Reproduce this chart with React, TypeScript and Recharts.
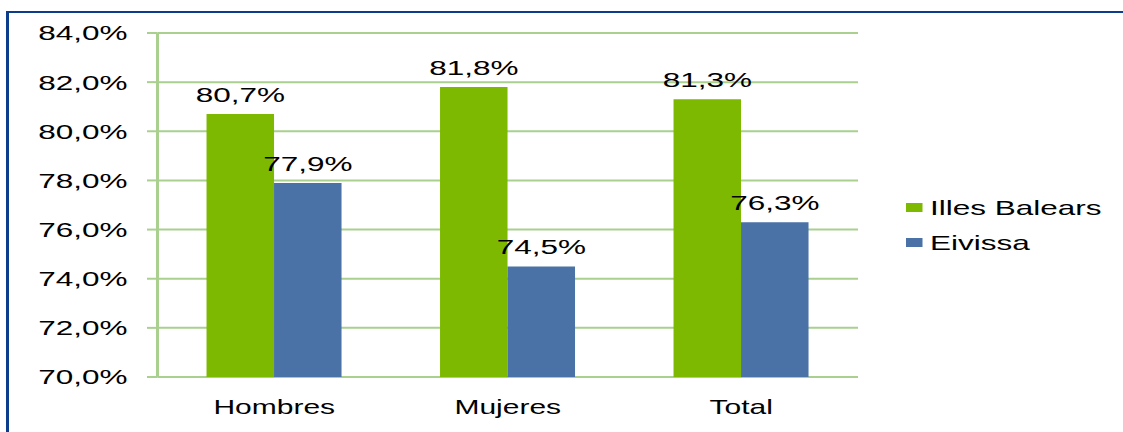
import { BarChart, Bar, XAxis, YAxis, CartesianGrid, Legend, LabelList } from 'recharts'

const categories = ['Hombres', 'Mujeres', 'Total']
const illesBalears = [80.7, 81.8, 81.3]
const eivissa = [77.9, 74.5, 76.3]
const yTicks = [70, 72, 74, 76, 78, 80, 82, 84]
const boundaryTicks = [0, 1, 2, 3]

const GREEN = '#7cb900'
const BLUE = '#4a72a6'
const GRID = '#a9d08e'
const FONT = '"Liberation Sans", Arial, sans-serif'
// the original picture is stretched sideways, so draw narrow and scale x
const STRETCH = 1.5

const data = categories.map((name, i) => ({
  name,
  balears: illesBalears[i],
  eivissa: eivissa[i],
}))

const pct = (v: number) => `${v.toFixed(1).replace('.', ',')}%`

function LegendBox() {
  const items = [
    { label: 'Illes Balears', color: GREEN },
    { label: 'Eivissa', color: BLUE },
  ]
  return (
    <div style={{ fontFamily: FONT, fontSize: 21, color: '#000' }}>
      {items.map((it) => (
        <div key={it.label} style={{ display: 'flex', alignItems: 'center', height: 35 }}>
          <span style={{ width: 11, height: 9, background: it.color, marginRight: 5 }} />
          <span>{it.label}</span>
        </div>
      ))}
    </div>
  )
}

export default function App() {
  const w = Math.round(1123 / STRETCH)
  return (
    <div style={{ position: 'fixed', left: 0, top: 0, width: 1123, height: 432, overflow: 'hidden', background: '#fff' }}>
      <div style={{ position: 'relative', width: w, height: 432, transform: `scaleX(${STRETCH})`, transformOrigin: '0 0' }}>
        <div
          style={{
            position: 'absolute',
            left: 4,
            top: 11,
            width: 900,
            height: 600,
            borderTop: '2px solid #0b3d8c',
            borderLeft: '2px solid #0b3d8c',
          }}
        />
        <BarChart
          width={w}
          height={432}
          data={data}
          margin={{ top: 33, right: w - 572, bottom: 0, left: 0 }}
          barCategoryGap="21%"
          barGap={0}
        >
          <CartesianGrid vertical={false} stroke={GRID} strokeWidth={2} />
          <XAxis
            xAxisId="b"
            type="number"
            domain={[0, 3]}
            ticks={boundaryTicks}
            allowDataOverflow
            tick={false}
            height={0}
            tickSize={5}
            axisLine={{ stroke: GRID, strokeWidth: 2 }}
            tickLine={{ stroke: GRID, strokeWidth: 2 }}
          />
          <XAxis
            xAxisId="cat"
            dataKey="name"
            height={55}
            axisLine={false}
            tickLine={false}
            tickSize={0}
            tickMargin={23}
            tick={{ fill: '#000', fontSize: 20, fontFamily: FONT }}
          />
          <YAxis
            width={105}
            domain={[70, 84]}
            ticks={yTicks}
            tickFormatter={pct}
            tickSize={7}
            tickMargin={13}
            axisLine={{ stroke: GRID, strokeWidth: 2 }}
            tickLine={{ stroke: GRID, strokeWidth: 2 }}
            tick={{ fill: '#000', fontSize: 21, fontFamily: FONT }}
          />
          <Legend
            layout="vertical"
            align="center"
            verticalAlign="middle"
            content={<LegendBox />}
            wrapperStyle={{ position: 'absolute', left: 604, top: 190, width: 140 }}
          />
          <Bar xAxisId="cat" dataKey="balears" name="Illes Balears" fill={GREEN} isAnimationActive={false}>
            <LabelList dataKey="balears" position="top" offset={12} formatter={(v: any) => pct(Number(v))} fill="#000" fontSize={21} fontFamily={FONT} />
          </Bar>
          <Bar xAxisId="cat" dataKey="eivissa" name="Eivissa" fill={BLUE} isAnimationActive={false}>
            <LabelList dataKey="eivissa" position="top" offset={12} formatter={(v: any) => pct(Number(v))} fill="#000" fontSize={21} fontFamily={FONT} />
          </Bar>
        </BarChart>
      </div>
    </div>
  )
}
